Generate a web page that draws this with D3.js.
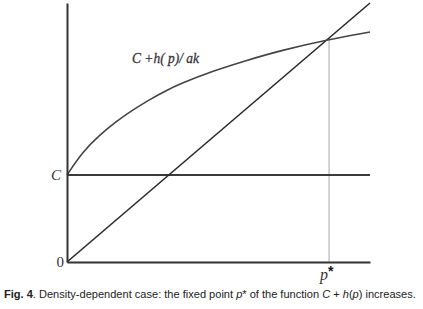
<!DOCTYPE html>
<html>
<head>
<meta charset="utf-8">
<script src="https://cdn.jsdelivr.net/npm/d3@7"></script>
<style>
  body { margin: 0; background: #fff; }
</style>
</head>
<body>
<div id="chart"></div>
<script>
// curve C + h(p)/ak
const curveP = [0, 0.52, 1.07, 1.62, 2.17, 2.72, 3.27, 3.73, 4.82, 5.94, 7.03, 8.65, 10];
const curveY = [3.36, 4.26, 4.90, 5.42, 5.87, 6.27, 6.62, 6.88, 7.38, 7.79, 8.16, 8.60, 8.88];
const diagP = [0, 10];
const levelC = 3.36;
const pStar = 8.65;

const w = 423;
const h = 309;

const x = d3.scaleLinear().domain([0, 10]).range([67, 370]);
const y = d3.scaleLinear().domain([0, 10]).range([262, 3]);

const svg = d3.select("#chart")
  .append("svg")
  .attr("width", w)
  .attr("height", h);

// grey drop line at p*
svg.append("line")
  .attr("x1", x(pStar)).attr("x2", x(pStar))
  .attr("y1", y(0)).attr("y2", y(pStar))
  .attr("stroke", "#c4c4c4")
  .attr("stroke-width", 1.5);

// horizontal line at C
svg.append("line")
  .attr("x1", x(0)).attr("x2", x(10))
  .attr("y1", y(levelC)).attr("y2", y(levelC))
  .attr("stroke", "#3a3a3a")
  .attr("stroke-width", 1.8);

// diagonal p
svg.append("path")
  .datum(diagP)
  .attr("fill", "none")
  .attr("stroke", "#2a2a2a")
  .attr("stroke-width", 1.6)
  .attr("d", d3.line().x(d => x(d)).y(d => y(d)));

// curve
svg.append("path")
  .datum(curveP.map((p, i) => [p, curveY[i]]))
  .attr("fill", "none")
  .attr("stroke", "#444")
  .attr("stroke-width", 1.6)
  .attr("d", d3.line().x(d => x(d[0])).y(d => y(d[1])).curve(d3.curveBasis));

// axes (no ticks)
svg.append("g")
  .attr("transform", "translate(0," + y(0) + ")")
  .call(d3.axisBottom(x).ticks(0).tickSizeOuter(0))
  .call(g => g.select(".domain").attr("stroke", "#333").attr("stroke-width", 2));

svg.append("g")
  .attr("transform", "translate(" + x(0) + ",0)")
  .call(d3.axisLeft(y).ticks(0).tickSizeOuter(0))
  .call(g => g.select(".domain").attr("stroke", "#333").attr("stroke-width", 2));

const serif = "'Liberation Serif', 'DejaVu Serif', serif";

svg.append("text")
  .attr("x", x(0) - 6).attr("y", y(levelC) + 5)
  .attr("text-anchor", "end")
  .attr("font-family", serif).attr("font-style", "italic")
  .attr("font-size", 15).attr("fill", "#333")
  .text("C");

svg.append("text")
  .attr("x", x(0) - 3).attr("y", y(0) + 5)
  .attr("text-anchor", "end")
  .attr("font-family", serif)
  .attr("font-size", 15).attr("fill", "#333")
  .text("0");

svg.append("text")
  .attr("x", 132).attr("y", 63)
  .attr("textLength", 67).attr("lengthAdjust", "spacingAndGlyphs")
  .attr("font-family", serif).attr("font-style", "italic")
  .attr("font-size", 15.5).attr("fill", "#333")
  .attr("stroke", "#333").attr("stroke-width", 0.3)
  .text("C +h( p)/ ak");

const ps = svg.append("text")
  .attr("x", x(pStar) - 9).attr("y", 280)
  .attr("font-family", serif).attr("font-style", "italic")
  .attr("font-size", 16).attr("fill", "#333");
ps.append("tspan").text("p");
ps.append("tspan")
  .attr("font-family", "'Liberation Sans', Arial, sans-serif")
  .attr("font-style", "normal").attr("font-weight", "bold")
  .attr("dy", -4).attr("font-size", 14).attr("fill", "#111")
  .text("*");

// caption, sized to span the picture width
const cap = svg.append("text")
  .attr("x", 4).attr("y", 298)
  .attr("font-family", "'Liberation Sans Narrow', 'Liberation Sans', Arial, sans-serif")
  .attr("font-size", 13).attr("fill", "#222");
cap.append("tspan").attr("font-weight", "bold").text("Fig. 4");
cap.append("tspan").text(". Density-dependent case: the fixed point ");
cap.append("tspan").attr("font-style", "italic").text("p");
cap.append("tspan").text("* of the function ");
cap.append("tspan").attr("font-style", "italic").text("C");
cap.append("tspan").text(" + ");
cap.append("tspan").attr("font-style", "italic").text("h");
cap.append("tspan").text("(");
cap.append("tspan").attr("font-style", "italic").text("p");
cap.append("tspan").text(") increases.");
const capW = cap.node().getComputedTextLength();
cap.attr("font-size", Math.min(13.5, 13 * 412 / capW));
</script>
</body>
</html>
